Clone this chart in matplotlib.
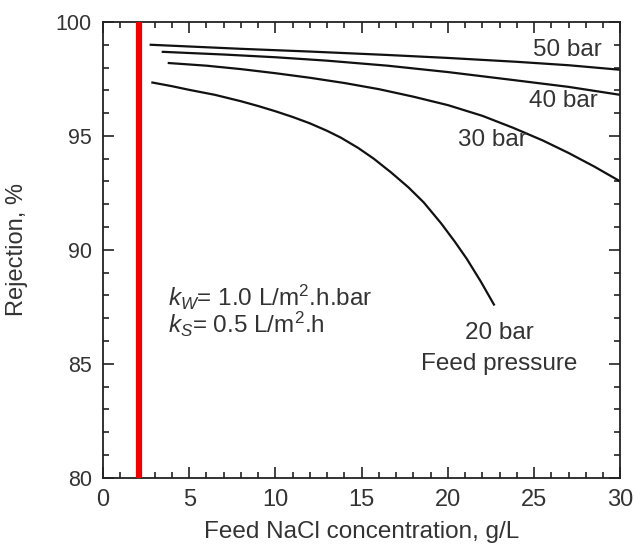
import matplotlib
matplotlib.use("Agg")
import matplotlib.pyplot as plt
from matplotlib.ticker import MultipleLocator

plt.rcParams["font.family"] = ["Liberation Sans", "DejaVu Sans"]
plt.rcParams["mathtext.fontset"] = "custom"
plt.rcParams["mathtext.rm"] = "Liberation Sans"
plt.rcParams["mathtext.it"] = "Liberation Sans:italic"

# values
x50 = [2.7, 8, 12, 16.5, 20, 24, 27, 30]
y50 = [99.0, 98.82, 98.7, 98.55, 98.42, 98.25, 98.1, 97.9]

x40 = [3.4, 7, 10, 13, 16.5, 20, 23.8, 27, 30]
y40 = [98.69, 98.57, 98.45, 98.3, 98.08, 97.8, 97.45, 97.15, 96.8]

x30 = [3.75, 6, 8, 10, 12, 14, 16, 18, 20, 22, 23.8, 25.5, 27, 28.5, 30]
y30 = [98.2, 98.08, 97.93, 97.75, 97.55, 97.32, 97.05, 96.72, 96.35, 95.88, 95.35, 94.8, 94.25, 93.65, 93.0]

x20 = [2.8, 4, 5, 6.5, 8, 9, 10, 11, 12, 13, 13.8, 14.8, 15.7, 16.7, 17.7, 18.6, 19.6, 20.4, 21.1, 21.9, 22.7]
y20 = [97.35, 97.18, 97.02, 96.8, 96.52, 96.31, 96.08, 95.83, 95.55, 95.22, 94.92, 94.47, 94.0, 93.4, 92.75, 92.08, 91.17, 90.36, 89.6, 88.62, 87.56]

red_x = 2.1

label_col = "#333333"

fig = plt.figure(figsize=(6.34, 5.48), dpi=100)
ax = fig.add_axes([0.1625, 0.128, 0.816, 0.832])

ax.axvline(red_x, color="#ee0000", lw=4.5, zorder=3)
for xs, ys in [(x50, y50), (x40, y40), (x30, y30), (x20, y20)]:
    ax.plot(xs, ys, color="#111111", lw=1.6, solid_capstyle="butt")

ax.set_xlim(0, 30)
ax.set_ylim(80, 100)
ax.xaxis.set_major_locator(MultipleLocator(5))
ax.xaxis.set_minor_locator(MultipleLocator(1))
ax.yaxis.set_major_locator(MultipleLocator(5))
ax.yaxis.set_minor_locator(MultipleLocator(1))
ax.tick_params(which="both", direction="in", top=True, right=True, width=1.2,
               colors="#222222", labelcolor=label_col)
ax.tick_params(which="major", length=8)
ax.tick_params(which="minor", length=4.5)
ax.tick_params(axis="x", labelsize=17, pad=8)
ax.tick_params(axis="y", labelsize=15.5, pad=8)
for s in ax.spines.values():
    s.set_linewidth(1.3)
    s.set_color("#222222")

ax.set_xlabel("Feed NaCl concentration, g/L", fontsize=17.5, color=label_col, labelpad=7)
ax.set_ylabel("Rejection, %", fontsize=17, color=label_col)
ax.yaxis.set_label_coords(-0.145, 0.5)

ax.text(26.9, 98.75, "50 bar", fontsize=17.5, color=label_col, ha="center", va="center")
ax.text(26.7, 96.55, "40 bar", fontsize=17.5, color=label_col, ha="center", va="center")
ax.text(22.6, 94.8, "30 bar", fontsize=17.5, color=label_col, ha="center", va="center")
ax.text(23.0, 86.35, "20 bar", fontsize=17.5, color=label_col, ha="center", va="center")
ax.text(23.0, 85.0, "Feed pressure", fontsize=17.5, color=label_col, ha="center", va="center")

ax.text(3.75, 87.9, r"$k_W$= 1.0 L/m$^2$.h.bar", fontsize=17.5, color=label_col,
        ha="left", va="center")
ax.text(3.75, 86.75, r"$k_S$= 0.5 L/m$^2$.h", fontsize=17.5, color=label_col,
        ha="left", va="center")

fig.savefig("out.png", dpi=100)
